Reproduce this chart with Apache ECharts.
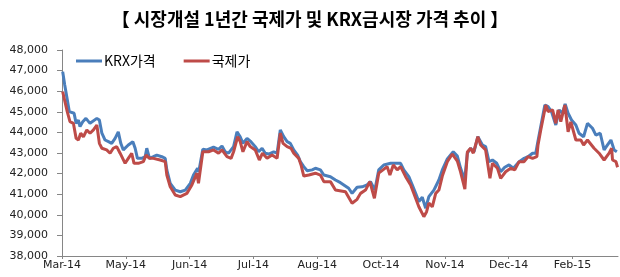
<!DOCTYPE html>
<html>
<head>
<meta charset="utf-8">
<script src="https://cdn.jsdelivr.net/npm/echarts@6/dist/echarts.min.js"></script>
<style>
html,body{margin:0;padding:0;background:#fff;}
#chart{width:620px;height:277px;}
</style>
</head>
<body>
<div id="chart"></div>
<script>
// ---- data (trading-day index since market opening, price in KRW/g) ----
var titleText = '【 시장개설 1년간 국제가 및 KRX금시장 가격 추이 】';
var seriesNames = ['KRX가격', '국제가'];
var tickLabels = ['Mar-14', 'May-14', 'Jun-14', 'Jul-14', 'Aug-14', 'Oct-14', 'Nov-14', 'Dec-14', 'Feb-15'];
var daysPerTick = 28;
var lastDay = 244;

var krxDays = [0.3,1.2,2.1,3.2,5.3,6.2,7.2,7.9,9.1,10.5,12.3,15.3,16.4,17.5,18.9,20.4,21.8,23.3,24.7,25.8,26.9,29.1,31.1,32.1,33.1,35.0,36.5,37.2,38.4,40.1,41.6,43.8,45.3,46.0,47.5,49.7,51.9,54.1,56.3,57.7,59.5,60.0,61.8,63.6,66.5,68.7,70.2,71.6,73.1,75.3,76.8,78.2,79.4,81.2,82.9,84.8,86.3,87.8,89.2,90.7,92.9,94.4,95.8,97.3,98.8,100.2,101.7,103.4,104.6,106.1,107.6,109.8,111.2,113.4,114.9,117.8,120.0,122.2,125.8,127.3,129.5,131.7,133.9,135.4,137.3,139.0,141.2,144.2,146.4,148.6,150.0,152.2,153.7,155.2,156.6,158.1,159.6,161.0,163.2,165.4,166.9,169.1,171.7,173.5,174.9,176.7,177.9,179.3,180.8,182.5,184.5,185.9,187.4,188.9,190.8,192.5,194.3,196.2,198.1,200.6,202.8,204.5,206.5,207.9,208.7,210.1,211.9,213.3,214.8,216.7,218.2,219.6,220.8,222.1,223.6,225.5,226.9,228.9,230.6,232.8,234.3,236.2,237.9,239.4,240.9,242.3,243.5];
var krxPrices = [46950,46300,45730,45010,44930,44440,44600,44280,44520,44680,44440,44680,44600,43960,43630,43550,43470,43710,44030,43470,43150,43390,43550,43230,42740,42740,42820,43230,42740,42820,42900,42820,42740,42180,41530,41200,41120,41200,41530,41930,42260,42080,43180,43150,43280,43180,43340,43060,42990,43310,44030,43790,43470,43710,43550,43310,43060,43230,42990,42950,43060,42990,44120,43790,43550,43470,43150,42900,42580,42340,42140,42180,42260,42180,41930,41850,41690,41560,41290,41040,41340,41360,41450,41610,41200,42180,42420,42500,42500,42500,42180,41850,41450,41040,40640,40850,40320,40880,41200,41690,42180,42710,43060,42850,42270,41690,42990,43230,43060,43790,43390,43310,42580,42660,42500,42090,42310,42420,42260,42580,42740,42820,42990,42990,43470,44280,45330,45250,45010,44360,45090,44930,45380,44930,44600,44360,43960,43790,44440,44200,43870,43960,43150,43390,43630,43150,43060];

var intlDays = [0.3,1.3,2.3,3.5,5.0,6.2,7.2,8.2,9.4,10.9,12.3,13.8,15.3,16.4,17.5,19.6,21.1,22.5,24.0,25.5,27.7,29.1,30.6,31.6,33.5,35.7,36.9,38.4,40.1,43.1,45.3,46.0,47.5,49.7,51.9,54.8,57.0,59.2,59.9,61.8,64.3,66.5,68.7,70.2,72.4,74.2,75.3,77.1,78.2,79.4,81.2,82.6,84.8,86.6,88.0,90.0,92.2,94.4,95.8,97.0,98.8,100.5,101.7,103.9,104.9,106.1,108.3,111.2,113.4,114.9,117.8,120.0,124.4,127.3,129.5,131.0,133.2,135.1,137.1,139.0,142.7,143.9,145.4,147.1,148.6,150.8,153.0,155.2,156.6,158.8,160.0,161.0,162.5,164.0,165.4,166.9,169.1,171.3,173.5,174.9,176.8,177.9,179.3,180.5,182.5,183.7,185.9,187.8,188.9,191.1,192.5,194.7,196.9,198.7,200.6,202.8,204.5,206.5,208.4,208.9,210.1,212.3,213.3,215.3,216.7,217.7,218.9,220.7,222.1,223.3,225.5,227.7,228.9,230.6,233.5,235.7,237.9,240.1,241.2,241.6,243.1,243.8];
var intlPrices = [45980,45490,45010,44520,44440,43710,43630,43960,43790,44120,43960,44120,44360,43470,43230,43150,42990,43230,43310,42990,42500,42740,42990,42500,42500,42580,42900,42740,42740,42660,42580,41930,41360,40960,40880,41040,41450,42020,41530,43060,43060,43150,42990,43150,42820,42740,43060,43790,43550,43060,43550,43310,43150,42660,42990,42740,42900,42740,43960,43470,43310,43230,42990,42740,42420,41880,41930,42020,41930,41610,41610,41200,41120,40560,40750,41040,41200,41610,40800,42020,42340,41930,42420,42180,42340,41850,41450,40800,40390,39910,40150,40570,40390,41040,41200,41880,42580,42950,42610,42080,41250,43050,43230,42990,43790,43390,43150,41770,42500,42260,41770,42090,42260,42180,42580,42580,42820,42740,42820,43390,44120,45330,45010,45090,44440,45090,44520,45330,44030,44510,43630,43630,43390,43630,43230,42990,42660,42990,43230,42660,42580,42310];

var yMin = 38000, yMax = 48000, yStep = 1000;

// ---- build ----
function pairs(xs, ys) { return xs.map(function (x, i) { return [x, ys[i]]; }); }
var tickPositions = tickLabels.map(function (_, i) { return i * daysPerTick; });

var chart = echarts.init(document.getElementById('chart'), null, { renderer: 'canvas' });
var axisGrey = '#868686';
chart.setOption({
  animation: false,
  backgroundColor: '#ffffff',
  title: {
    text: titleText,
    left: 'center',
    top: 5,
    textStyle: { fontFamily: 'Noto Sans CJK KR', fontSize: 18, fontWeight: 'bold', color: '#000' }
  },
  legend: {
    left: 76,
    top: 54,
    padding: 0,
    itemGap: 28,
    itemWidth: 26,
    itemHeight: 3,
    icon: 'rect',
    data: seriesNames,
    textStyle: { fontFamily: 'Noto Sans CJK KR', fontSize: 14, color: '#000', padding: [0, 0, 0, -3] }
  },
  grid: { left: 62, right: 2, top: 50, bottom: 21, containLabel: false },
  xAxis: {
    type: 'value',
    min: 0,
    max: lastDay,
    interval: daysPerTick,
    splitLine: { show: false },
    axisLine: { lineStyle: { color: axisGrey, width: 1 } },
    axisTick: { show: true, length: 3, customValues: tickPositions, lineStyle: { color: axisGrey } },
    axisLabel: {
      customValues: tickPositions,
      margin: 4,
      fontFamily: 'DejaVu Sans',
      fontSize: 11,
      color: '#222',
      formatter: function (v) { var k = Math.round(v / daysPerTick); return tickLabels[k] || ''; }
    }
  },
  yAxis: {
    type: 'value',
    min: yMin,
    max: yMax,
    interval: yStep,
    splitLine: { show: false },
    axisLine: { show: true, lineStyle: { color: axisGrey, width: 1 } },
    axisTick: { show: true, length: 5, lineStyle: { color: axisGrey } },
    axisLabel: {
      margin: 14,
      fontFamily: 'DejaVu Sans',
      fontSize: 11,
      color: '#222',
      formatter: function (v) { return v.toLocaleString('en-US'); }
    }
  },
  series: [
    {
      name: seriesNames[0],
      type: 'line',
      data: pairs(krxDays, krxPrices),
      showSymbol: false,
      symbol: 'none',
      lineStyle: { color: '#4A7EBB', width: 3 },
      itemStyle: { color: '#4A7EBB' }
    },
    {
      name: seriesNames[1],
      type: 'line',
      data: pairs(intlDays, intlPrices),
      showSymbol: false,
      symbol: 'none',
      lineStyle: { color: '#BE4B48', width: 3 },
      itemStyle: { color: '#BE4B48' }
    }
  ]
});
</script>
</body>
</html>
